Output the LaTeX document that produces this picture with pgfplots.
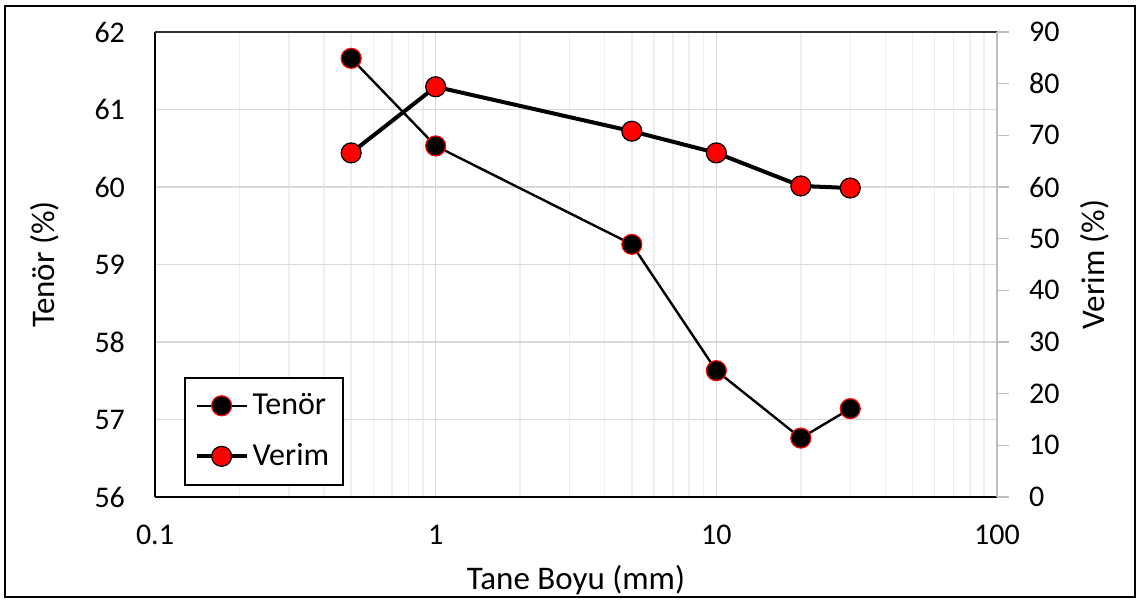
\documentclass[border=0pt]{standalone}
\usepackage{pgfplots}
\pgfplotsset{compat=1.18}
\usepackage{fontspec}
\setmainfont{Carlito}
\definecolor{majgrid}{RGB}{217,217,217}
\definecolor{mingrid}{RGB}{238,238,238}
\definecolor{rgray}{RGB}{190,190,190}
\begin{document}
\begin{tikzpicture}[x=1pt,y=1pt]
\useasboundingbox (0,0) rectangle (570,300.5);
\draw[black, line width=1pt] (2.5,2) rectangle (567.5,297.5);
\begin{axis}[
  at={(77.5pt,52pt)}, anchor=south west, scale only axis,
  width=421pt, height=232.5pt,
  xmode=log, xmin=0.1, xmax=100, ymin=56, ymax=62,
  xtick={0.1,1,10,100}, xticklabels={0.1,1,10,100},
  ytick={56,57,...,62},
  /pgf/number format/assume math mode=true,
  axis line style={draw=none}, major tick length=0pt, minor tick length=0pt,
  grid=both,
  major grid style={draw=majgrid, line width=0.7pt},
  minor grid style={draw=mingrid, line width=0.7pt},
  tick label style={font=\fontsize{15}{18}\selectfont},
  yticklabel style={anchor=east, xshift=-11.5pt},
  xticklabel style={anchor=north, yshift=-10.5pt},
  xlabel={Tane Boyu (mm)}, ylabel={Tenör (\%)},
  label style={font=\fontsize{16.5}{20}\selectfont},
  xlabel style={at={(axis description cs:0.5,-0.1785)}, anchor=center},
  ylabel style={at={(axis description cs:-0.1306,0.5)}, anchor=center, rotate=0},
  clip=false,
]
\draw[black, line width=1pt] (rel axis cs:0,0) -- (rel axis cs:1,0);
\draw[black, line width=1pt] (rel axis cs:0,0) -- (rel axis cs:0,1);
\draw[black!80, line width=1pt] (rel axis cs:0,1) -- (rel axis cs:1,1);
\addplot[black, line width=1.2pt, mark=*, mark size=5pt,
  mark options={fill=black, draw=red, line width=0.6pt}]
  coordinates {(0.5,61.66) (1,60.53) (5,59.26) (10,57.63) (20,56.76) (30,57.14)};
\end{axis}
\begin{axis}[
  at={(77.5pt,52pt)}, anchor=south west, scale only axis,
  width=421pt, height=232.5pt,
  xmode=log, xmin=0.1, xmax=100, ymin=0, ymax=90,
  axis x line=none,
  axis y line*=right,
  y axis line style={draw=rgray, line width=0.8pt},
  ytick={0,10,...,90},
  /pgf/number format/assume math mode=true,
  tick align=outside, major tick length=6pt,
  ytick style={draw=rgray, line width=0.8pt},
  tick label style={font=\fontsize{15}{18}\selectfont},
  yticklabel style={anchor=west, xshift=6.5pt},
  ylabel={Verim (\%)},
  label style={font=\fontsize{16.5}{20}\selectfont},
  ylabel style={at={(axis description cs:1.1164,0.5)}, anchor=center, rotate=0},
  legend style={at={(0.034,0.024)}, anchor=south west, draw=black, line width=1pt,
    font=\fontsize{16}{19}\selectfont, row sep=9pt, inner xsep=5pt, inner ysep=6pt},
  legend cell align=left,
  legend image code/.code={\draw[mark repeat=2,mark phase=2] plot coordinates {(0pt,0pt) (12.5pt,0pt) (25pt,0pt)};},
  clip=false,
]
\addlegendimage{black, line width=1.2pt, mark=*, mark size=5pt,
  mark options={fill=black, draw=red, line width=0.6pt}}
\addlegendentry{Tenör}
\addplot[black, line width=2pt, mark=*, mark size=5pt,
  mark options={fill=red, draw=black, line width=0.6pt}]
  coordinates {(0.5,66.6) (1,79.4) (5,70.8) (10,66.6) (20,60.2) (30,59.8)};
\addlegendentry{Verim}
\end{axis}
\end{tikzpicture}
\end{document}
